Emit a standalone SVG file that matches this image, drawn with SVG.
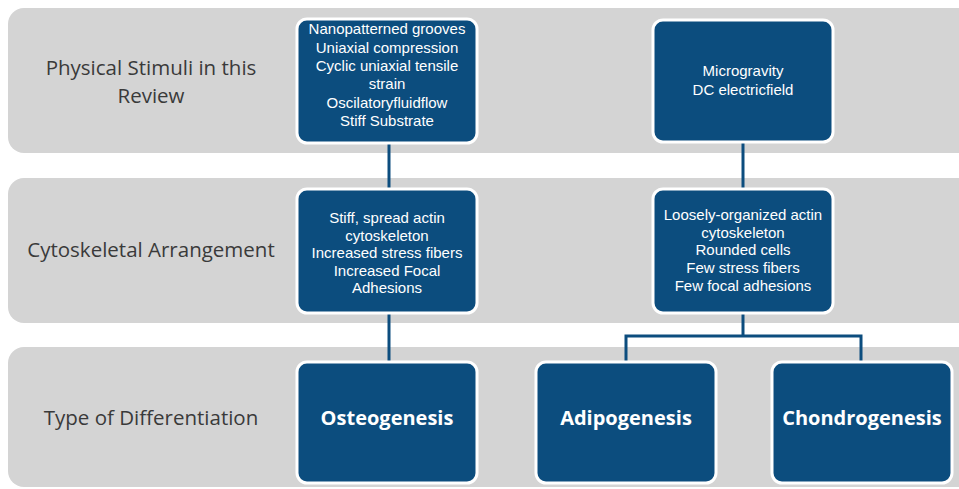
<svg xmlns="http://www.w3.org/2000/svg" width="959" height="489" viewBox="0 0 959 489">
<style>
.band{fill:#d4d4d4}
.lbl{font-family:"Open Sans","Liberation Sans",sans-serif;font-size:20.5px;fill:#3a3a3a;text-anchor:middle}
.box{fill:#0c4d7e;stroke:#ffffff;stroke-width:3}
.t{font-family:"Liberation Sans",Arial,sans-serif;font-size:15px;fill:#ffffff;text-anchor:middle}
.b{font-family:"Open Sans","Liberation Sans",sans-serif;font-size:20px;font-weight:bold;fill:#ffffff;text-anchor:middle}
.conn{stroke:#0c4d7e;stroke-width:3;fill:none}
</style>
<rect width="959" height="489" fill="#ffffff"/>
<g id="bands">
<rect class="band" x="8" y="8" width="970" height="145" rx="16"/>
<rect class="band" x="8" y="178" width="970" height="145" rx="16"/>
<rect class="band" x="8" y="347" width="970" height="140" rx="16"/>
<text class="lbl" x="151" y="75">Physical Stimuli in this</text>
<text class="lbl" x="151" y="103">Review</text>
<text class="lbl" x="151" y="257">Cytoskeletal Arrangement</text>
<text class="lbl" x="151" y="425">Type of Differentiation</text>
</g>
<g id="connectors">
<line class="conn" x1="389" y1="143" x2="389" y2="189"/>
<line class="conn" x1="743" y1="142" x2="743" y2="189"/>
<line class="conn" x1="389" y1="313" x2="389" y2="362"/>
<polyline class="conn" points="626,362 626,336 861,336 861,362"/>
<line class="conn" x1="743" y1="313" x2="743" y2="336"/>
</g>
<g id="n1">
<rect class="box" x="297" y="19" width="180" height="124" rx="10"/>
<text class="t" x="387" y="34">Nanopatterned grooves</text>
<text class="t" x="387" y="52.5">Uniaxial compression</text>
<text class="t" x="387" y="71">Cyclic uniaxial tensile</text>
<text class="t" x="387" y="89">strain</text>
<text class="t" x="387" y="107.5">Oscilatoryfluidflow</text>
<text class="t" x="387" y="126">Stiff Substrate</text>
</g>
<g id="n2">
<rect class="box" x="653" y="20" width="180" height="122" rx="10"/>
<text class="t" x="743" y="76">Microgravity</text>
<text class="t" x="743" y="95">DC electricfield</text>
</g>
<g id="n3">
<rect class="box" x="297" y="189" width="180" height="124" rx="10"/>
<text class="t" x="387" y="223">Stiff, spread actin</text>
<text class="t" x="387" y="240.5">cytoskeleton</text>
<text class="t" x="387" y="258">Increased stress fibers</text>
<text class="t" x="387" y="275.5">Increased Focal</text>
<text class="t" x="387" y="293">Adhesions</text>
</g>
<g id="n4">
<rect class="box" x="653" y="189" width="180" height="124" rx="10"/>
<text class="t" x="743" y="220">Loosely-organized actin</text>
<text class="t" x="743" y="237.5">cytoskeleton</text>
<text class="t" x="743" y="255">Rounded cells</text>
<text class="t" x="743" y="273">Few stress fibers</text>
<text class="t" x="743" y="291">Few focal adhesions</text>
</g>
<g id="n5">
<rect class="box" x="297" y="362" width="180" height="121" rx="10"/>
<text class="b" x="387" y="425">Osteogenesis</text>
</g>
<g id="n6">
<rect class="box" x="536" y="362" width="180" height="121" rx="10"/>
<text class="b" x="626" y="425">Adipogenesis</text>
</g>
<g id="n7">
<rect class="box" x="772" y="362" width="180" height="121" rx="10"/>
<text class="b" x="862" y="425">Chondrogenesis</text>
</g>
</svg>
